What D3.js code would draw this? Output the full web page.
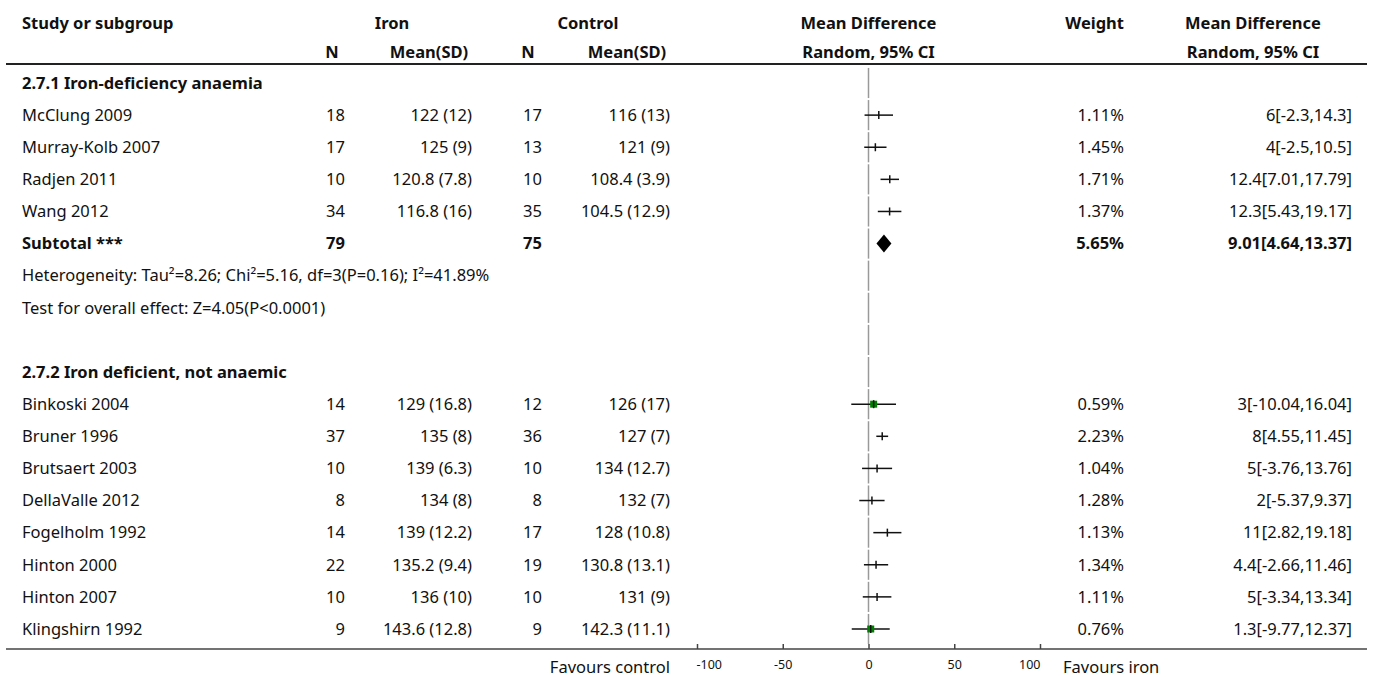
<!DOCTYPE html>
<html>
<head>
<meta charset="utf-8">
<script src="https://cdn.jsdelivr.net/npm/d3@7"></script>
<style>
  body { margin: 0; background: #fff; }
  svg text { font-family: "Noto Sans", Lato, sans-serif; fill: #111; }
</style>
</head>
<body>
<div id="viz"></div>
<script>
// study data
const group1 = "2.7.1 Iron-deficiency anaemia";
const group2 = "2.7.2 Iron deficient, not anaemic";
const studies1 = ["McClung 2009", "Murray-Kolb 2007", "Radjen 2011", "Wang 2012"];
const studies2 = ["Binkoski 2004", "Bruner 1996", "Brutsaert 2003", "DellaValle 2012",
                  "Fogelholm 1992", "Hinton 2000", "Hinton 2007", "Klingshirn 1992"];

const ironN    = [18, 17, 10, 34, 14, 37, 10, 8, 14, 22, 10, 9];
const ironMean = [122, 125, 120.8, 116.8, 129, 135, 139, 134, 139, 135.2, 136, 143.6];
const ironSD   = [12, 9, 7.8, 16, 16.8, 8, 6.3, 8, 12.2, 9.4, 10, 12.8];
const ctrlN    = [17, 13, 10, 35, 12, 36, 10, 8, 17, 19, 10, 9];
const ctrlMean = [116, 121, 108.4, 104.5, 126, 127, 134, 132, 128, 130.8, 131, 142.3];
const ctrlSD   = [13, 9, 3.9, 12.9, 17, 7, 12.7, 7, 10.8, 13.1, 9, 11.1];
const md       = [6, 4, 12.4, 12.3, 3, 8, 5, 2, 11, 4.4, 5, 1.3];
const mdLow    = [-2.3, -2.5, 7.01, 5.43, -10.04, 4.55, -3.76, -5.37, 2.82, -2.66, -3.34, -9.77];
const mdHigh   = [14.3, 10.5, 17.79, 19.17, 16.04, 11.45, 13.76, 9.37, 19.18, 11.46, 13.34, 12.37];
const weight   = [1.11, 1.45, 1.71, 1.37, 0.59, 2.23, 1.04, 1.28, 1.13, 1.34, 1.11, 0.76];

const subtotal1 = { label: "Subtotal ***", ironN: 79, ctrlN: 75, md: 9.01, lo: 4.64, hi: 13.37, weight: 5.65 };
const heterogeneity1 = "Heterogeneity: Tau\u00B2=8.26; Chi\u00B2=5.16, df=3(P=0.16); I\u00B2=41.89%";
const overall1 = "Test for overall effect: Z=4.05(P<0.0001)";

const axisTicks = [-100, -50, 0, 50, 100];

// build the table rows
const rows = [];
rows.push({ type: "group", label: group1 });
studies1.forEach((s, i) => rows.push({ type: "study", label: s, i: i }));
rows.push({ type: "subtotal", label: subtotal1.label, d: subtotal1 });
rows.push({ type: "note", label: heterogeneity1 });
rows.push({ type: "note", label: overall1 });
rows.push({ type: "blank", label: "" });
rows.push({ type: "group", label: group2 });
studies2.forEach((s, i) => rows.push({ type: "study", label: s, i: i + studies1.length }));

const width = 1375, height = 677;
const svg = d3.select("#viz").append("svg")
  .attr("width", width).attr("height", height);

const y = d3.scaleLinear().domain([0, rows.length - 1]).range([83, 629]);
const rowH = y(1) - y(0);
const x = d3.scaleLinear().domain([-100, 100]).range([697, 1040]);

const col = {
  label: 22, ironN: 345, ironMean: 472, ctrlN: 542, ctrlMean: 670,
  weight: 1124, ci: 1352
};
const fs = 16.5;

function txt(xp, yp, s, anchor, bold) {
  return svg.append("text")
    .attr("x", xp).attr("y", yp)
    .attr("dy", "0.35em")
    .attr("text-anchor", anchor || "start")
    .attr("font-size", fs)
    .attr("font-weight", bold ? "bold" : "normal")
    .text(s);
}

// header
const h1 = 23, h2 = 52;
txt(col.label, h1, "Study or subgroup", "start", true);
txt(392, h1, "Iron", "middle", true);
txt(588, h1, "Control", "middle", true);
txt(x(0), h1, "Mean Difference", "middle", true);
txt(col.weight, h1, "Weight", "end", true);
txt(1253, h1, "Mean Difference", "middle", true);
txt(332, h2, "N", "middle", true);
txt(429, h2, "Mean(SD)", "middle", true);
txt(528, h2, "N", "middle", true);
txt(627, h2, "Mean(SD)", "middle", true);
txt(x(0), h2, "Random, 95% CI", "middle", true);
txt(1253, h2, "Random, 95% CI", "middle", true);

svg.append("line")
  .attr("x1", 6).attr("x2", 1367).attr("y1", 64).attr("y2", 64)
  .attr("stroke", "#222").attr("stroke-width", 2);

// zero line, one piece per row
rows.forEach((r, k) => {
  svg.append("line")
    .attr("x1", x(0)).attr("x2", x(0))
    .attr("y1", y(k) - rowH / 2 + 1).attr("y2", y(k) + rowH / 2 - 1)
    .attr("stroke", "#999").attr("stroke-width", 1.5);
});

const fmtCI = (m, l, h) => `${m}[${l},${h}]`;

rows.forEach((r, k) => {
  const yy = y(k);
  if (r.type === "group") {
    txt(col.label, yy, r.label, "start", true);
  } else if (r.type === "note") {
    txt(col.label, yy, r.label, "start", false);
  } else if (r.type === "study") {
    const i = r.i;
    txt(col.label, yy, r.label);
    txt(col.ironN, yy, ironN[i], "end");
    txt(col.ironMean, yy, `${ironMean[i]} (${ironSD[i]})`, "end");
    txt(col.ctrlN, yy, ctrlN[i], "end");
    txt(col.ctrlMean, yy, `${ctrlMean[i]} (${ctrlSD[i]})`, "end");
    txt(col.weight, yy, weight[i].toFixed(2) + "%", "end");
    txt(col.ci, yy, fmtCI(md[i], mdLow[i], mdHigh[i]), "end");

    svg.append("line")
      .attr("x1", x(mdLow[i])).attr("x2", x(mdHigh[i]))
      .attr("y1", yy).attr("y2", yy)
      .attr("stroke", "#111").attr("stroke-width", 1.5);
    if (weight[i] < 1) {
      const sz = 7;
      svg.append("rect")
        .attr("x", x(md[i]) - sz / 2).attr("y", yy - sz / 2)
        .attr("width", sz).attr("height", sz)
        .attr("fill", "#008000");
    }
    svg.append("line")
      .attr("x1", x(md[i])).attr("x2", x(md[i]))
      .attr("y1", yy - 4).attr("y2", yy + 4)
      .attr("stroke", "#111").attr("stroke-width", 1.5);
  } else if (r.type === "subtotal") {
    const d = r.d;
    txt(col.label, yy, d.label, "start", true);
    txt(col.ironN, yy, d.ironN, "end", true);
    txt(col.ctrlN, yy, d.ctrlN, "end", true);
    txt(col.weight, yy, d.weight.toFixed(2) + "%", "end", true);
    txt(col.ci, yy, fmtCI(d.md, d.lo, d.hi), "end", true);
    const hh = 9;
    svg.append("path")
      .attr("d", `M${x(d.lo)},${yy} L${x(d.md)},${yy - hh} L${x(d.hi)},${yy} L${x(d.md)},${yy + hh} Z`)
      .attr("fill", "#000");
  }
});

// bottom axis
const axisY = 649;
svg.append("line")
  .attr("x1", 6).attr("x2", 1367).attr("y1", axisY).attr("y2", axisY)
  .attr("stroke", "#444").attr("stroke-width", 1.5);

const ax = svg.append("g")
  .attr("transform", `translate(0,${axisY})`)
  .call(d3.axisTop(x).tickValues(axisTicks).tickSize(5).tickFormat(d => String(d)));
ax.select(".domain").remove();
ax.selectAll(".tick line").attr("stroke", "#444").attr("stroke-width", 1.5);
ax.selectAll(".tick text")
  .attr("y", 20).attr("dy", "0")
  .attr("font-size", 12.5)
  .attr("font-family", "\"Noto Sans\", sans-serif")
  .attr("fill", "#222")
  .attr("text-anchor", (d, i) => i === 0 ? "start" : (i === axisTicks.length - 1 ? "end" : "middle"))
  .attr("x", (d, i) => i === 0 ? -1 : 0);

txt(670, 667, "Favours control", "end");
txt(1063, 667, "Favours iron", "start");
</script>
</body>
</html>
